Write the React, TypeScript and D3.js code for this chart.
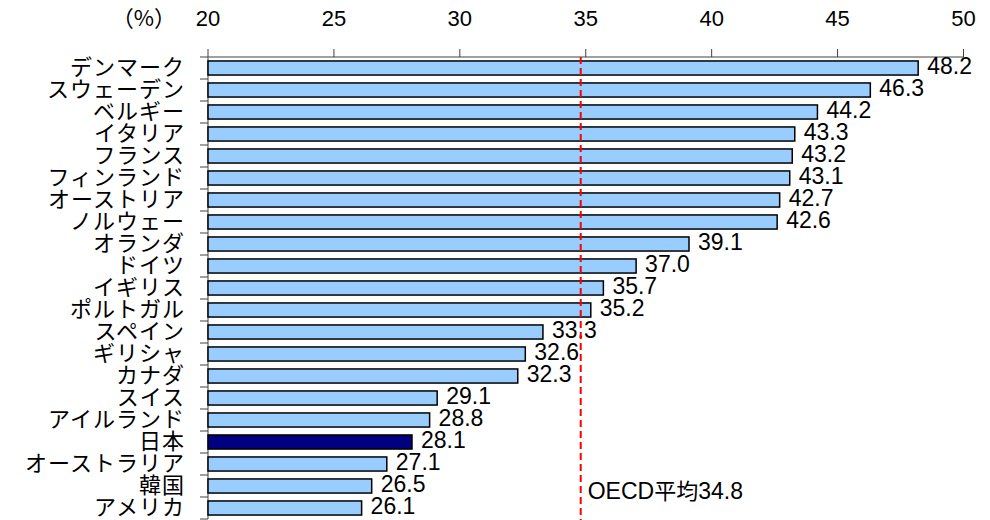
import React from "react";
import * as d3 from "d3";

const categories = [
  "デンマーク", "スウェーデン", "ベルギー", "イタリア", "フランス", "フィンランド",
  "オーストリア", "ノルウェー", "オランダ", "ドイツ", "イギリス", "ポルトガル",
  "スペイン", "ギリシャ", "カナダ", "スイス", "アイルランド", "日本",
  "オーストラリア", "韓国", "アメリカ",
];
const values = [
  48.2, 46.3, 44.2, 43.3, 43.2, 43.1, 42.7, 42.6, 39.1, 37.0, 35.7, 35.2,
  33.3, 32.6, 32.3, 29.1, 28.8, 28.1, 27.1, 26.5, 26.1,
];
const highlight = "日本";
const xTicks = [20, 25, 30, 35, 40, 45, 50];
const oecdAverage = 34.8;
const oecdLabel = "OECD平均";
const unitLabel = "（%）";

const W = 990;
const H = 520;
const JP = "'Noto Sans CJK JP', 'Liberation Sans', sans-serif";
const NUM = "'Liberation Sans', Arial, sans-serif";

export default function App() {
  const x = d3.scaleLinear().domain([20, 50]).range([208, 963.5]);
  const y = d3.scaleBand<string>().domain(categories).range([57, 519]).paddingInner(0.36).paddingOuter(0.18);
  const step = y.step();
  const top = 57;
  const bounds = d3.range(categories.length + 1).map((i) => top + i * step);

  return (
    <svg width={W} height={H} style={{ position: "absolute", left: 0, top: 0, background: "#fff" }}>
      {/* top value axis */}
      <line x1={x(20)} x2={x(50)} y1={top} y2={top} stroke="#808080" strokeWidth={1.5} />
      {xTicks.map((t) => (
        <g key={t}>
          <line x1={x(t)} x2={x(t)} y1={top} y2={top - 8} stroke="#404040" strokeWidth={1} />
          <text x={x(t)} y={26} textAnchor="middle" fontFamily={NUM} fontSize={22} fill="#000">
            {t}
          </text>
        </g>
      ))}
      <text x={176} y={26} textAnchor="end" fontFamily={JP} fontSize={22} fill="#000">
        {unitLabel}
      </text>

      {/* category axis */}
      <line x1={x(20)} x2={x(20)} y1={top} y2={bounds[bounds.length - 1]} stroke="#808080" strokeWidth={1.5} />
      {bounds.map((b, i) => (
        <line key={i} x1={x(20) - 8} x2={x(20)} y1={b} y2={b} stroke="#404040" strokeWidth={1} />
      ))}

      {/* bars */}
      {categories.map((c, i) => {
        const yy = y(c)!;
        const cy = yy + y.bandwidth() / 2;
        return (
          <g key={c}>
            <rect
              x={x(20)}
              y={yy}
              width={x(values[i]) - x(20)}
              height={y.bandwidth()}
              fill={c === highlight ? "#000080" : "#99CCFF"}
              stroke="#000"
              strokeWidth={1.5}
            />
            <text x={x(values[i]) + 9} y={cy + 6} fontFamily={NUM} fontSize={23} fill="#000">
              {values[i].toFixed(1)}
            </text>
            <text
              x={185}
              y={cy + 7}
              textAnchor="end"
              fontFamily={JP}
              fontSize={22}
              letterSpacing={1}
              fill="#000"
            >
              {c}
            </text>
          </g>
        );
      })}

      {/* OECD average reference line */}
      <line
        x1={x(oecdAverage)}
        x2={x(oecdAverage)}
        y1={top}
        y2={H}
        stroke="#FF0000"
        strokeWidth={2}
        strokeDasharray="7,4"
      />
      <text x={x(oecdAverage) + 7} y={499} fontFamily={JP} fontSize={22} fill="#000">
        <tspan fontFamily={NUM} fontSize={23}>OECD</tspan>
        {oecdLabel.replace("OECD", "")}
        <tspan fontFamily={NUM} fontSize={23}>{oecdAverage.toFixed(1)}</tspan>
      </text>
    </svg>
  );
}
